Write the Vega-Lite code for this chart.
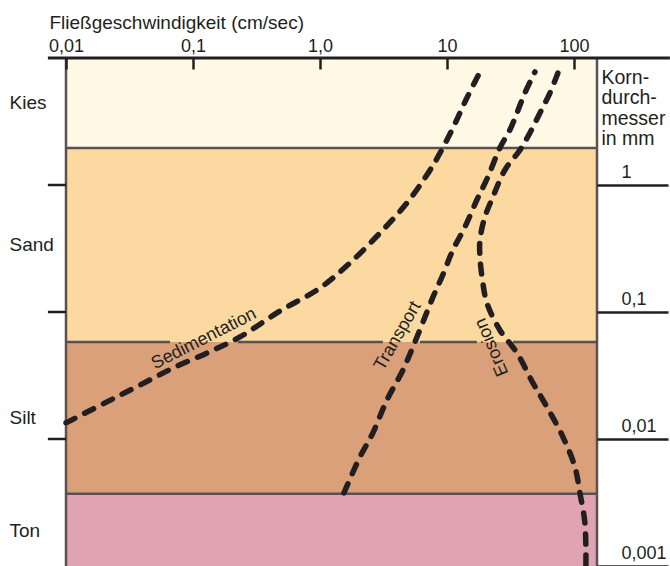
{
  "$schema": "https://vega.github.io/schema/vega-lite/v6.json",
  "width": 531,
  "height": 508,
  "autosize": {"type": "none"},
  "padding": {"left": 66, "top": 58, "right": 73, "bottom": 0},
  "background": "white",
  "config": {
    "view": {"stroke": null},
    "font": "Liberation Sans",
    "axis": {"labelColor": "#231f20", "titleColor": "#231f20", "labelFont": "Liberation Sans", "titleFont": "Liberation Sans"},
    "text": {"font": "Liberation Sans", "color": "#231f20"}
  },
  "datasets": {
    "baender": [
      {"klasse": "Kies", "von": 1.96, "bis": 10},
      {"klasse": "Sand", "von": 0.058, "bis": 1.96},
      {"klasse": "Silt", "von": 0.0037, "bis": 0.058},
      {"klasse": "Ton", "von": 0.001, "bis": 0.0037}
    ],
    "grenzen": [
      {"d": 1.96, "v1": 0.01, "v2": 152},
      {"d": 0.058, "v1": 0.01, "v2": 0.0659},
      {"d": 0.058, "v1": 0.226, "v2": 3.13},
      {"d": 0.058, "v1": 6.13, "v2": 17.2},
      {"d": 0.058, "v1": 33.1, "v2": 152},
      {"d": 0.0037, "v1": 0.01, "v2": 152}
    ],
    "raender": [{"v": 0.01}, {"v": 152}],
    "striche": [{"d": 1}, {"d": 0.1}, {"d": 0.01}],
    "kurven": [
      {"kurve": "Sedimentation", "i": 1, "v": 0.01, "d": 0.0134},
      {"kurve": "Sedimentation", "i": 2, "v": 0.021, "d": 0.0196},
      {"kurve": "Sedimentation", "i": 3, "v": 0.0383, "d": 0.0266},
      {"kurve": "Sedimentation", "i": 4, "v": 0.0696, "d": 0.0362},
      {"kurve": "Sedimentation", "i": 5, "v": 0.129, "d": 0.0476},
      {"kurve": "Sedimentation", "i": 6, "v": 0.2345, "d": 0.0636},
      {"kurve": "Sedimentation", "i": 7, "v": 0.484, "d": 0.1018},
      {"kurve": "Sedimentation", "i": 8, "v": 1.0, "d": 0.1545},
      {"kurve": "Sedimentation", "i": 9, "v": 1.72, "d": 0.243},
      {"kurve": "Sedimentation", "i": 10, "v": 2.97, "d": 0.419},
      {"kurve": "Sedimentation", "i": 11, "v": 4.84, "d": 0.722},
      {"kurve": "Sedimentation", "i": 12, "v": 7.62, "d": 1.386},
      {"kurve": "Sedimentation", "i": 13, "v": 10.95, "d": 2.71},
      {"kurve": "Sedimentation", "i": 14, "v": 14.1, "d": 4.67},
      {"kurve": "Sedimentation", "i": 15, "v": 18.2, "d": 7.76},
      {"kurve": "Transport", "i": 1, "v": 1.545, "d": 0.00376},
      {"kurve": "Transport", "i": 2, "v": 2.065, "d": 0.00722},
      {"kurve": "Transport", "i": 3, "v": 2.61, "d": 0.01115},
      {"kurve": "Transport", "i": 4, "v": 3.37, "d": 0.0203},
      {"kurve": "Transport", "i": 5, "v": 4.5, "d": 0.0349},
      {"kurve": "Transport", "i": 6, "v": 5.81, "d": 0.0636},
      {"kurve": "Transport", "i": 7, "v": 7.76, "d": 0.131},
      {"kurve": "Transport", "i": 8, "v": 9.13, "d": 0.1886},
      {"kurve": "Transport", "i": 9, "v": 11.15, "d": 0.308},
      {"kurve": "Transport", "i": 10, "v": 13.86, "d": 0.467},
      {"kurve": "Transport", "i": 11, "v": 17.2, "d": 0.762},
      {"kurve": "Transport", "i": 12, "v": 21.0, "d": 1.156},
      {"kurve": "Transport", "i": 13, "v": 26.1, "d": 1.956},
      {"kurve": "Transport", "i": 14, "v": 31.3, "d": 2.71},
      {"kurve": "Transport", "i": 15, "v": 35.6, "d": 3.69},
      {"kurve": "Transport", "i": 16, "v": 41.1, "d": 5.3},
      {"kurve": "Transport", "i": 17, "v": 49.3, "d": 7.76},
      {"kurve": "Erosion", "i": 1, "v": 74.8, "d": 7.62},
      {"kurve": "Erosion", "i": 2, "v": 64.7, "d": 5.3},
      {"kurve": "Erosion", "i": 3, "v": 54.0, "d": 3.69},
      {"kurve": "Erosion", "i": 4, "v": 45.0, "d": 2.57},
      {"kurve": "Erosion", "i": 5, "v": 37.6, "d": 1.886},
      {"kurve": "Erosion", "i": 6, "v": 28.6, "d": 1.313},
      {"kurve": "Erosion", "i": 7, "v": 23.0, "d": 0.804},
      {"kurve": "Erosion", "i": 8, "v": 19.9, "d": 0.56},
      {"kurve": "Erosion", "i": 9, "v": 18.2, "d": 0.369},
      {"kurve": "Erosion", "i": 10, "v": 18.2, "d": 0.271},
      {"kurve": "Erosion", "i": 11, "v": 18.9, "d": 0.1886},
      {"kurve": "Erosion", "i": 12, "v": 20.65, "d": 0.1178},
      {"kurve": "Erosion", "i": 13, "v": 26.1, "d": 0.0722},
      {"kurve": "Erosion", "i": 14, "v": 35.6, "d": 0.0476},
      {"kurve": "Erosion", "i": 15, "v": 47.6, "d": 0.0276},
      {"kurve": "Erosion", "i": 16, "v": 61.3, "d": 0.0179},
      {"kurve": "Erosion", "i": 17, "v": 81.9, "d": 0.0104},
      {"kurve": "Erosion", "i": 18, "v": 101.8, "d": 0.00602},
      {"kurve": "Erosion", "i": 19, "v": 111.5, "d": 0.00376},
      {"kurve": "Erosion", "i": 20, "v": 122.1, "d": 0.00218},
      {"kurve": "Erosion", "i": 21, "v": 124.3, "d": 0.001}
    ],
    "beschriftung": [
      {"text": "Sedimentation", "v": 0.122, "d": 0.0613},
      {"text": "Transport", "v": 4.11, "d": 0.0647},
      {"text": "Erosion", "v": 22.6, "d": 0.053}
    ]
  },
  "resolve": {"axis": {"x": "independent", "y": "independent"}},
  "layer": [
    {
      "data": {"name": "baender"},
      "mark": {"type": "rect", "strokeWidth": 0},
      "encoding": {
        "x": {
          "datum": 0.01, "type": "quantitative",
          "scale": {"type": "log", "domain": [0.01, 152], "nice": false},
          "axis": {
            "orient": "top", "values": [0.01, 0.1, 1, 10, 100],
            "labelExpr": "datum.value < 0.05 ? '0,01' : datum.value < 0.5 ? '0,1' : datum.value < 5 ? '1,0' : datum.value < 50 ? '10' : '100'",
            "tickSize": -11, "tickWidth": 2.5, "tickColor": "#231f20",
            "domain": false, "grid": false, "zindex": 1,
            "labelPadding": 18, "labelBaseline": "alphabetic", "labelFontSize": 18,
            "labelFlush": false, "labelOverlap": false, "labelBound": false,
            "title": "Fließgeschwindigkeit (cm/sec)",
            "titleX": -17, "titleY": -30, "titleAlign": "left", "titleBaseline": "alphabetic",
            "titleAngle": 0, "titleFontSize": 19, "titleFontWeight": "normal"
          }
        },
        "x2": {"datum": 152},
        "y": {
          "field": "von", "type": "quantitative",
          "scale": {"type": "log", "domain": [0.001, 10], "nice": false},
          "axis": {
            "orient": "left", "values": [4.5, 0.337, 0.0149, 0.00192],
            "labelExpr": "datum.value > 1 ? 'Kies' : datum.value > 0.1 ? 'Sand' : datum.value > 0.005 ? 'Silt' : 'Ton'",
            "ticks": false, "tickSize": 0, "domain": false, "grid": false,
            "labelAlign": "left", "labelPadding": 57, "labelBaseline": "middle",
            "labelFontSize": 19, "labelFlush": false, "labelOverlap": false, "labelBound": false,
            "title": null
          }
        },
        "y2": {"field": "bis"},
        "fill": {
          "field": "klasse", "type": "nominal",
          "scale": {"domain": ["Kies", "Sand", "Silt", "Ton"], "range": ["#fff9e6", "#fdd9a2", "#d9a07a", "#dfa3b1"]},
          "legend": null
        }
      }
    },
    {
      "data": {"name": "grenzen"},
      "mark": {"type": "rule", "color": "#5a5252", "strokeWidth": 2.5},
      "encoding": {
        "x": {"field": "v1", "type": "quantitative", "axis": null},
        "x2": {"field": "v2"},
        "y": {"field": "d", "type": "quantitative", "axis": null}
      }
    },
    {
      "data": {"name": "raender"},
      "mark": {"type": "rule", "color": "#5a5252", "strokeWidth": 2.5},
      "encoding": {
        "x": {"field": "v", "type": "quantitative", "axis": null},
        "y": {"datum": 0.001, "type": "quantitative", "axis": null},
        "y2": {"datum": 10}
      }
    },
    {
      "data": {"name": "striche"},
      "mark": {"type": "rule", "color": "#231f20", "strokeWidth": 2.5},
      "encoding": {
        "x": {"datum": 0.0072, "type": "quantitative", "axis": null},
        "x2": {"datum": 0.01},
        "y": {"field": "d", "type": "quantitative", "axis": null}
      }
    },
    {
      "data": {"values": [{"linie": "oben"}]},
      "mark": {"type": "rule", "color": "#231f20", "strokeWidth": 3},
      "encoding": {
        "x": {"datum": 0.0072, "type": "quantitative", "axis": null},
        "x2": {"datum": 570},
        "y": {"datum": 10, "type": "quantitative", "axis": null}
      }
    },
    {
      "data": {"name": "kurven"},
      "mark": {"type": "line", "color": "#231f20", "strokeWidth": 5.5, "strokeDash": [10, 11], "strokeCap": "round", "interpolate": "catmull-rom"},
      "encoding": {
        "x": {"field": "v", "type": "quantitative", "axis": null},
        "y": {
          "field": "d", "type": "quantitative",
          "axis": {
            "orient": "right", "values": [1, 0.1, 0.01, 0.001],
            "labelExpr": "datum.value > 0.5 ? '1' : datum.value > 0.05 ? '0,1' : datum.value > 0.005 ? '0,01' : '0,001'",
            "tickSize": 71, "tickWidth": 2.5, "tickColor": "#231f20",
            "domain": false, "grid": false, "zindex": 1,
            "labelAlign": "left", "labelPadding": -47, "labelBaseline": "alphabetic", "labelOffset": -8,
            "labelFontSize": 18, "labelFlush": false, "labelOverlap": false, "labelBound": false,
            "title": ["Korn-", "durch-", "messer", "in mm"],
            "titleX": 4, "titleY": 25, "titleAngle": 0, "titleAlign": "left", "titleBaseline": "alphabetic",
            "titleFontSize": 19.5, "titleFontWeight": "normal", "titleLineHeight": 20.5
          }
        },
        "detail": {"field": "kurve"},
        "order": {"field": "i", "type": "quantitative"}
      }
    },
    {
      "data": {"name": "beschriftung"},
      "transform": [{"filter": "datum.text == 'Sedimentation'"}],
      "mark": {"type": "text", "angle": -27, "fontSize": 18, "align": "center", "baseline": "middle"},
      "encoding": {
        "x": {"field": "v", "type": "quantitative", "axis": null},
        "y": {"field": "d", "type": "quantitative", "axis": null},
        "text": {"field": "text"}
      }
    },
    {
      "data": {"name": "beschriftung"},
      "transform": [{"filter": "datum.text == 'Transport'"}],
      "mark": {"type": "text", "angle": -60, "fontSize": 18, "align": "center", "baseline": "middle"},
      "encoding": {
        "x": {"field": "v", "type": "quantitative", "axis": null},
        "y": {"field": "d", "type": "quantitative", "axis": null},
        "text": {"field": "text"}
      }
    },
    {
      "data": {"name": "beschriftung"},
      "transform": [{"filter": "datum.text == 'Erosion'"}],
      "mark": {"type": "text", "angle": -113, "fontSize": 18, "align": "center", "baseline": "middle"},
      "encoding": {
        "x": {"field": "v", "type": "quantitative", "axis": null},
        "y": {"field": "d", "type": "quantitative", "axis": null},
        "text": {"field": "text"}
      }
    }
  ]
}
